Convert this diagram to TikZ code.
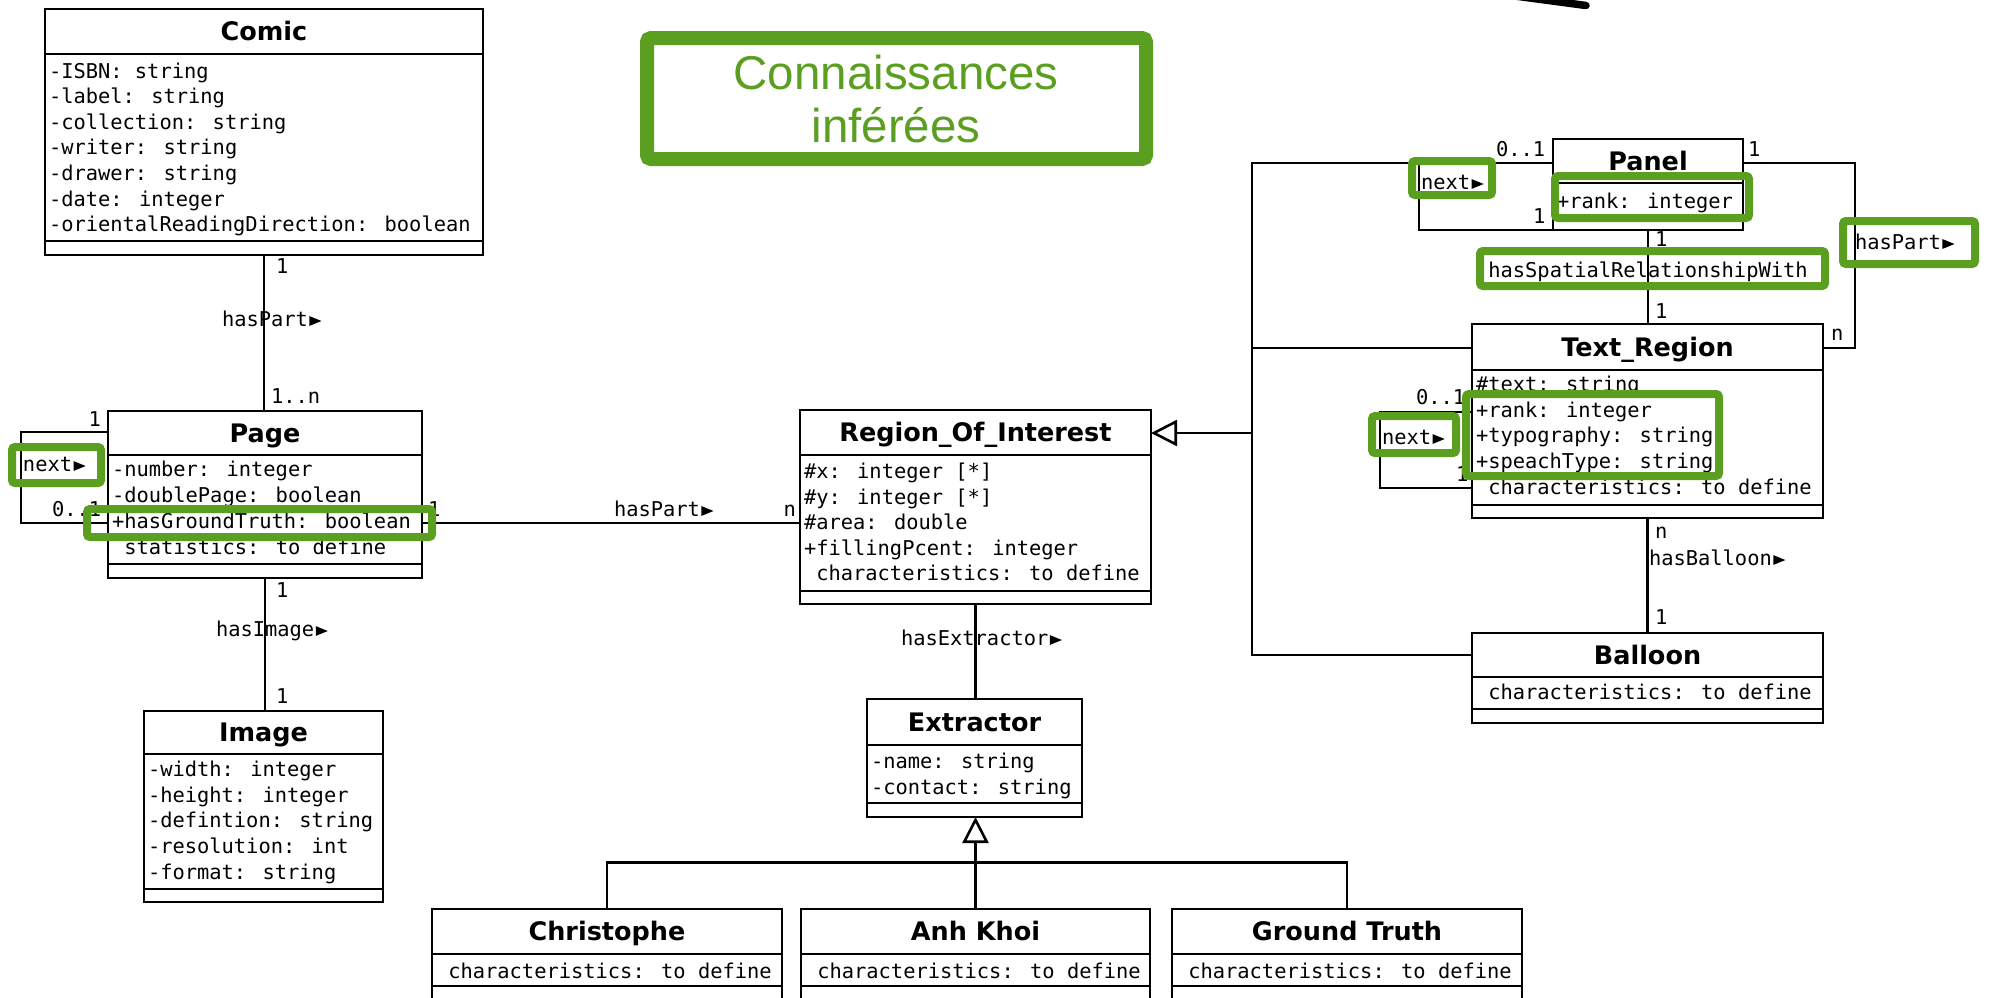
\documentclass[tikz,border=0pt]{standalone}
\usepackage{fontspec}
\usetikzlibrary{fit,arrows.meta}
\newfontfamily\umlmono{DejaVu Sans Mono}
\newfontfamily\umlsans{DejaVu Sans}
\newfontfamily\notefont{Liberation Sans}
\definecolor{notegreen}{HTML}{5A9F1F}
% small filled triangle that follows an association name
\newcommand\rtri{\hspace{1.5pt}\tikz[baseline=0pt]\fill (0pt,0.6pt) -- (0pt,10.4pt) -- (12pt,5.5pt) -- cycle;}
% class box: name, x1, y1, x2, y2, first separator, second separator, title
\newcommand\umlclass[8]{%
  \node[classbox, fit={(#2,#3) (#4,#5)}] (#1) {};
  \draw[umlline] (#2,#6) -- (#4,#6) (#2,#7) -- (#4,#7);
  \node[ctitle] at ({(#2+#4)/2},{(#3+#6)/2}) {#8};
}
\begin{document}
\begin{tikzpicture}[x=1pt,y=-1pt,
  umlline/.style={draw=black, line width=2.6pt},
  classbox/.style={draw=black, line width=2.6pt, inner sep=0pt, outer sep=0pt},
  attr/.style={anchor=west, inner sep=0pt, outer sep=0pt,
    font=\umlmono\fontsize{20.4}{24}\selectfont, text height=13pt, text depth=0pt},
  ctitle/.style={inner sep=0pt, font=\umlsans\bfseries\fontsize{25.5}{29}\selectfont,
    text height=18.6pt, text depth=0pt},
  hl/.style={draw=notegreen, line width=8pt, rounded corners=3pt},
  gen/.style={umlline, -{Triangle[open, length=26pt, width=26pt]}},
  notetext/.style={anchor=base, inner sep=0pt, text=notegreen,
    font=\notefont\fontsize{47.5}{54}\selectfont}]
\useasboundingbox (0,0) rectangle (1989,997);
\clip (0,0) rectangle (1989,997);
\fill[white] (0,0) rectangle (1989,997);

% ---------- classes ----------
\umlclass{comic}{45}{9}{483}{255}{54}{241}{Comic}
\umlclass{page}{108}{411}{422}{578}{455}{564}{Page}
\umlclass{image}{144}{711}{383}{902}{754}{889}{Image}
\umlclass{roi}{800}{410}{1151}{604}{455}{591}{Region\_Of\_Interest}
\umlclass{extractor}{867}{699}{1082}{817}{745}{803}{Extractor}
\umlclass{christophe}{432}{909}{782}{1012}{954}{986}{Christophe}
\umlclass{anhkhoi}{801}{909}{1150}{1012}{954}{986}{Anh Khoi}
\umlclass{groundtruth}{1172}{909}{1522}{1012}{954}{986}{Ground Truth}
\umlclass{panel}{1553}{139}{1743}{230}{183}{217}{Panel}
\umlclass{textregion}{1472}{324}{1823}{518}{370}{505}{Text\_Region}
\umlclass{balloon}{1472}{633}{1823}{723}{677}{709}{Balloon}

% ---------- attributes ----------
\foreach \t [count=\i from 0] in {-ISBN: string, -label: string, -collection: string,
    -writer: string, -drawer: string, -date: integer, -orientalReadingDirection: boolean}
  \node[attr] at (49, 71.5+\i*25.6) {\t};
\foreach \t [count=\i from 0] in {-number: integer, -doublePage: boolean, +hasGroundTruth: boolean}
  \node[attr] at (112, 470+\i*25.8) {\t};
\node[attr] at (124.3, 547.5) {statistics: to define};
\foreach \t [count=\i from 0] in {-width: integer, -height: integer, -defintion: string,
    -resolution: int, -format: string}
  \node[attr] at (148, 770+\i*25.7) {\t};
\foreach \t [count=\i from 0] in {\#x: integer [*], \#y: integer [*], \#area: double,
    +fillingPcent: integer}
  \node[attr] at (804, 472+\i*25.6) {\t};
\node[attr] at (816.3, 574.4) {characteristics: to define};
\node[attr] at (871, 762) {-name: string};
\node[attr] at (871, 787.5) {-contact: string};
\node[attr] at (448.3, 972) {characteristics: to define};
\node[attr] at (817.3, 972) {characteristics: to define};
\node[attr] at (1188.3, 972) {characteristics: to define};
\node[attr] at (1557, 202) {+rank: integer};
\foreach \t [count=\i from 0] in {\#text: string, +rank: integer, +typography: string,
    +speachType: string}
  \node[attr] at (1476, 385+\i*25.7) {\t};
\node[attr] at (1488.3, 488) {characteristics: to define};
\node[attr] at (1488.3, 693) {characteristics: to define};

% ---------- associations ----------
\draw[umlline] (comic.south) -- (comic.south |- page.north);
\draw[umlline] (page.south) -- (page.south |- image.north);
\draw[umlline] (page.east |- 0,523) -- (roi.west |- 0,523);
\draw[umlline] (page.west |- 0,432) -- (21,432) -- (21,523) -- (page.west |- 0,523);
\draw[umlline] (roi.south) -- (roi.south |- extractor.north);

% Comic -- Page
\node[attr] at (276, 267) {1};
\node[attr] at (222, 320) {hasPart\rtri};
\node[attr] at (271, 397) {1..n};
% Page -- Image
\node[attr] at (276, 591) {1};
\node[attr] at (216, 630) {hasImage\rtri};
\node[attr] at (276, 697) {1};
% Page -- Page
\node[attr, anchor=east] at (101, 420) {1};
\node[attr] at (52, 510) {0..1};
\node[attr] at (23, 465) {next\rtri};
% Page -- Region_Of_Interest
\node[attr] at (428, 510) {1};
\node[attr] at (614, 510) {hasPart\rtri};
\node[attr, anchor=east] at (796, 510) {n};
% Region_Of_Interest -- Extractor
\node[attr] at (901, 639) {hasExtractor\rtri};

% ---------- generalisations ----------
\draw[gen] (anhkhoi.north) -- (anhkhoi.north |- extractor.south);
\draw[umlline] (christophe.north) |- (anhkhoi.north |- 0,862.7) -| (groundtruth.north);

\coordinate (gtop) at (1252,163);
\coordinate (gmid) at (1252,348);
\coordinate (gbot) at (1252,655);
\draw[gen] (gtop |- 0,433) -- (roi.east |- 0,433);
\draw[umlline] (panel.west |- gtop) -- (gtop) -- (gbot) -- (balloon.west |- gbot);
\draw[umlline] (gmid) -- (textregion.west |- gmid);

% Panel -- Panel
\draw[umlline] (panel.west |- gtop) -- (1419,163) -- (1419,230) -- (panel.south west);
\node[attr] at (1496, 150) {0..1};
\node[attr] at (1533, 217) {1};
\node[attr] at (1421, 183) {next\rtri};
% Panel -- Text_Region (hasPart)
\draw[umlline] (panel.east |- gtop) -- (1855,163) -- (1855,348) -- (textregion.east |- gmid);
\node[attr] at (1748, 150) {1};
\node[attr] at (1855, 243) {hasPart\rtri};
\node[attr] at (1831, 334) {n};
% Panel -- Text_Region (spatial relationship)
\draw[umlline] (panel.south) -- (panel.south |- textregion.north);
\node[attr] at (1655, 240) {1};
\node[attr] at (1655, 312) {1};
\node[attr, anchor=center] at (1648, 271) {hasSpatialRelationshipWith};
% Text_Region -- Text_Region
\draw[umlline] (textregion.west |- 0,412) -- (1380,412) -- (1380,488) -- (textregion.west |- 0,488);
\node[attr] at (1416, 398) {0..1};
\node[attr] at (1456, 475) {1};
\node[attr] at (1382, 438) {next\rtri};
% Text_Region -- Balloon
\draw[umlline] (textregion.south) -- (textregion.south |- balloon.north);
\node[attr] at (1655, 532) {n};
\node[attr] at (1649, 559) {hasBalloon\rtri};
\node[attr] at (1655, 618) {1};

% ---------- highlighted elements ----------
\node[draw=notegreen, line width=14pt, rounded corners=4pt, inner sep=0pt,
  fit={(647,38) (1146,159)}] (note) {};
\node[notetext] at (896, 89) {Connaissances};
\node[notetext] at (896, 142.7) {inférées};

\draw[hl] (12,447) rectangle (101,483);
\draw[hl] (87,509) rectangle (432,537);
\draw[hl] (1412,161) rectangle (1492,195);
\draw[hl] (1555,176) rectangle (1749,218);
\draw[hl] (1480,251) rectangle (1825,286);
\draw[hl] (1843,221) rectangle (1975,264);
\draw[hl] (1372,416) rectangle (1456,453);
\draw[hl] (1466,394) rectangle (1719,476);

% pen stroke at the top edge
\draw[line width=7.5pt, line cap=round] (1500,-6) -- (1586,5.5);
\end{tikzpicture}
\end{document}
